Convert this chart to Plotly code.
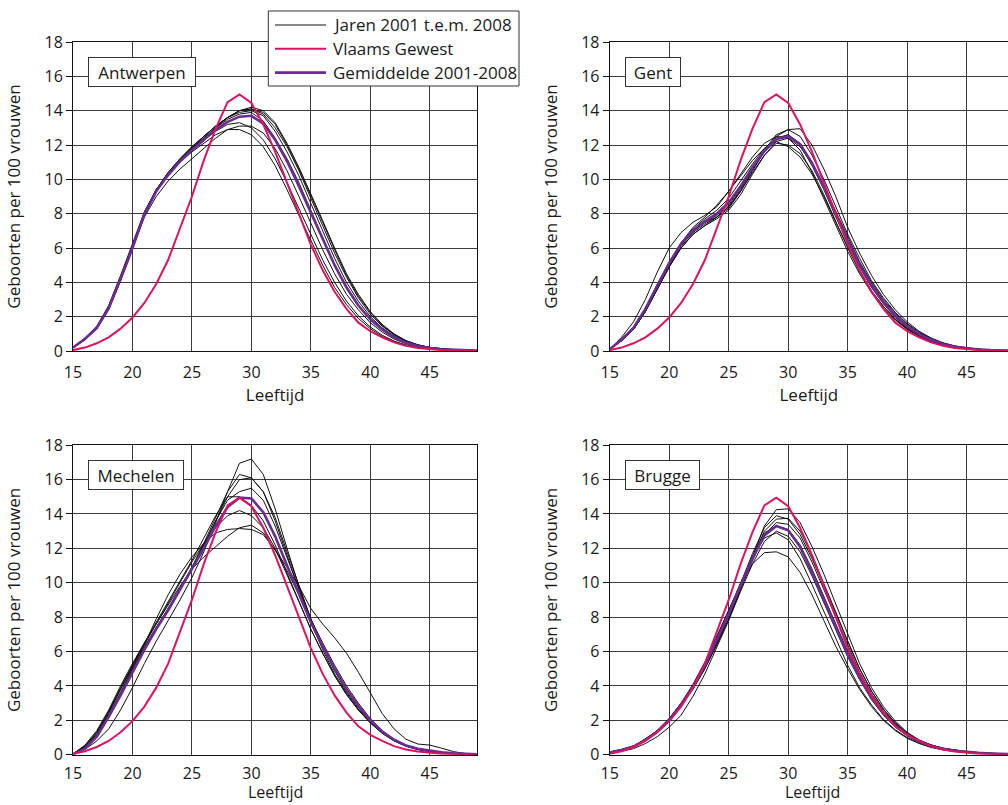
import plotly.graph_objects as go

ages = list(range(15, 50))

vlaams_gewest = [0.05, 0.2, 0.45, 0.8, 1.3, 1.95, 2.8, 3.9, 5.3, 7.1, 9.0, 11.1, 12.95, 14.5, 14.95,
                 14.45, 13.2, 11.6, 9.8, 8.0, 6.2, 4.7, 3.45, 2.45, 1.65, 1.15, 0.8, 0.5, 0.3, 0.18,
                 0.1, 0.05, 0.03, 0.02, 0.01]

antwerpen_years = [
    [0.2, 0.75, 1.45, 2.65, 4.4, 6.2, 8.1, 9.4, 10.3, 11.0, 11.6, 12.1, 12.6, 12.9, 12.9, 12.6, 11.9, 10.8, 9.4, 7.9, 6.4, 5.0, 3.7, 2.7, 1.9, 1.3, 0.85, 0.55, 0.33, 0.2, 0.12, 0.07, 0.04, 0.02, 0.01],
    [0.2, 0.75, 1.4, 2.6, 4.3, 6.1, 8.1, 9.4, 10.3, 11.1, 11.7, 12.3, 12.8, 13.2, 13.3, 13.0, 12.3, 11.2, 9.8, 8.3, 6.7, 5.3, 4.0, 2.9, 2.05, 1.4, 0.92, 0.58, 0.35, 0.21, 0.13, 0.08, 0.05, 0.03, 0.01],
    [0.2, 0.7, 1.35, 2.5, 4.2, 6.0, 7.8, 9.0, 9.9, 10.6, 11.2, 11.8, 12.4, 12.9, 13.1, 13.1, 12.7, 11.8, 10.5, 9.0, 7.4, 5.9, 4.5, 3.3, 2.4, 1.65, 1.1, 0.7, 0.42, 0.25, 0.15, 0.09, 0.05, 0.03, 0.01],
    [0.2, 0.7, 1.35, 2.5, 4.2, 6.0, 7.9, 9.3, 10.3, 11.1, 11.8, 12.4, 13.0, 13.5, 13.8, 13.9, 13.4, 12.4, 11.2, 9.8, 8.2, 6.6, 5.0, 3.7, 2.65, 1.85, 1.25, 0.8, 0.48, 0.29, 0.17, 0.1, 0.06, 0.03, 0.02],
    [0.2, 0.65, 1.3, 2.45, 4.15, 6.0, 7.9, 9.3, 10.3, 11.1, 11.8, 12.5, 13.1, 13.6, 13.9, 14.0, 13.7, 12.8, 11.6, 10.2, 8.6, 7.0, 5.4, 4.0, 2.9, 2.0, 1.35, 0.88, 0.54, 0.32, 0.19, 0.11, 0.07, 0.04, 0.02],
    [0.2, 0.65, 1.3, 2.45, 4.1, 5.95, 7.9, 9.3, 10.3, 11.1, 11.8, 12.4, 13.0, 13.6, 14.0, 14.1, 13.8, 13.0, 11.9, 10.5, 8.9, 7.3, 5.7, 4.3, 3.1, 2.15, 1.45, 0.95, 0.58, 0.35, 0.2, 0.12, 0.07, 0.04, 0.02],
    [0.2, 0.65, 1.3, 2.4, 4.1, 5.9, 7.9, 9.4, 10.4, 11.2, 11.9, 12.5, 13.1, 13.6, 14.0, 14.2, 14.0, 13.3, 12.1, 10.7, 9.2, 7.6, 6.0, 4.5, 3.3, 2.3, 1.55, 1.0, 0.6, 0.36, 0.21, 0.12, 0.07, 0.04, 0.02],
    [0.2, 0.7, 1.35, 2.5, 4.2, 6.0, 8.0, 9.4, 10.4, 11.2, 11.9, 12.5, 13.1, 13.6, 14.0, 14.1, 13.9, 13.2, 12.0, 10.6, 9.1, 7.5, 5.9, 4.4, 3.2, 2.25, 1.5, 0.97, 0.6, 0.36, 0.21, 0.12, 0.07, 0.04, 0.02],
]
antwerpen_mean = [0.2, 0.7, 1.35, 2.5, 4.2, 6.0, 7.95, 9.3, 10.25, 11.05, 11.7, 12.3, 12.9, 13.35, 13.65, 13.7, 13.25, 12.3, 11.05, 9.6, 8.05, 6.5, 5.0, 3.7, 2.65, 1.85, 1.25, 0.8, 0.49, 0.29, 0.17, 0.1, 0.06, 0.03, 0.02]

gent_years = [
    [0.1, 0.8, 1.7, 3.0, 4.6, 6.0, 6.9, 7.5, 7.9, 8.4, 9.3, 10.3, 11.3, 12.1, 12.5, 12.4, 11.7, 10.4, 8.9, 7.3, 5.8, 4.5, 3.4, 2.5, 1.8, 1.25, 0.85, 0.55, 0.35, 0.2, 0.12, 0.07, 0.04, 0.02, 0.01],
    [0.1, 0.7, 1.4, 2.5, 3.9, 5.2, 6.3, 7.1, 7.7, 8.2, 8.9, 9.9, 10.9, 11.8, 12.4, 12.6, 12.0, 10.8, 9.4, 7.8, 6.3, 4.9, 3.7, 2.75, 1.95, 1.35, 0.92, 0.6, 0.38, 0.23, 0.14, 0.08, 0.05, 0.03, 0.01],
    [0.1, 0.65, 1.3, 2.4, 3.7, 5.0, 6.2, 7.0, 7.5, 7.9, 8.5, 9.5, 10.6, 11.6, 12.3, 12.6, 12.1, 11.0, 9.6, 8.0, 6.5, 5.1, 3.9, 2.9, 2.1, 1.45, 0.98, 0.65, 0.42, 0.25, 0.15, 0.09, 0.05, 0.03, 0.01],
    [0.1, 0.6, 1.25, 2.3, 3.6, 4.9, 6.0, 6.8, 7.3, 7.8, 8.4, 9.3, 10.4, 11.4, 12.1, 12.0, 11.5, 10.5, 9.1, 7.6, 6.0, 4.7, 3.5, 2.6, 1.85, 1.3, 0.9, 0.6, 0.38, 0.23, 0.14, 0.08, 0.05, 0.03, 0.01],
    [0.1, 0.65, 1.3, 2.35, 3.7, 5.1, 6.3, 7.2, 7.8, 8.5, 9.3, 10.2, 11.1, 11.8, 12.2, 11.9, 11.3, 10.3, 9.0, 7.5, 6.0, 4.6, 3.5, 2.6, 1.85, 1.3, 0.88, 0.58, 0.37, 0.22, 0.13, 0.08, 0.05, 0.03, 0.01],
    [0.1, 0.6, 1.25, 2.3, 3.65, 5.0, 6.2, 7.0, 7.5, 7.8, 8.4, 9.4, 10.6, 11.7, 12.6, 12.9, 12.5, 11.4, 10.0, 8.4, 6.8, 5.4, 4.1, 3.1, 2.25, 1.6, 1.1, 0.72, 0.46, 0.28, 0.17, 0.1, 0.06, 0.03, 0.02],
    [0.1, 0.6, 1.25, 2.3, 3.6, 4.9, 6.0, 6.8, 7.3, 7.7, 8.2, 9.1, 10.3, 11.4, 12.2, 12.4, 11.9, 10.9, 9.6, 8.1, 6.6, 5.2, 4.0, 3.0, 2.2, 1.55, 1.05, 0.7, 0.44, 0.27, 0.16, 0.09, 0.05, 0.03, 0.02],
    [0.1, 0.6, 1.25, 2.3, 3.6, 4.9, 6.1, 6.9, 7.4, 7.8, 8.3, 9.3, 10.5, 11.6, 12.5, 12.9, 12.95, 12.0, 10.6, 9.0, 7.2, 5.7, 4.4, 3.3, 2.4, 1.7, 1.15, 0.76, 0.48, 0.3, 0.18, 0.1, 0.06, 0.03, 0.02],
]
gent_mean = [0.1, 0.65, 1.35, 2.45, 3.8, 5.1, 6.25, 7.0, 7.55, 8.0, 8.65, 9.6, 10.7, 11.65, 12.35, 12.5, 12.05, 10.95, 9.55, 7.98, 6.4, 5.0, 3.8, 2.85, 2.05, 1.45, 0.98, 0.65, 0.41, 0.25, 0.15, 0.09, 0.05, 0.03, 0.01]

mechelen_years = [
    [0.05, 0.5, 1.3, 2.5, 3.8, 5.1, 6.4, 7.9, 9.3, 10.5, 11.5, 12.3, 12.9, 13.1, 13.15, 13.1, 12.8, 11.9, 10.7, 9.3, 7.9, 6.5, 5.2, 4.0, 3.0, 2.1, 1.4, 0.9, 0.55, 0.33, 0.2, 0.12, 0.07, 0.04, 0.02],
    [0.05, 0.45, 1.2, 2.4, 3.8, 5.2, 6.5, 7.6, 8.7, 9.8, 10.8, 11.5, 12.1, 12.7, 13.2, 13.35, 12.9, 11.9, 10.9, 9.8, 8.5, 7.6, 6.8, 5.9, 4.8, 3.6, 2.4, 1.5, 0.9, 0.62, 0.56, 0.38, 0.18, 0.07, 0.02],
    [0.05, 0.5, 1.3, 2.5, 3.9, 5.2, 6.4, 7.6, 8.8, 10.0, 11.2, 12.3, 13.2, 13.9, 14.2, 13.9, 13.2, 12.0, 10.5, 8.9, 7.3, 5.9, 4.6, 3.5, 2.6, 1.85, 1.25, 0.8, 0.5, 0.3, 0.18, 0.1, 0.06, 0.03, 0.01],
    [0.05, 0.55, 1.4, 2.6, 4.0, 5.3, 6.5, 7.7, 8.9, 10.1, 11.3, 12.6, 13.9, 15.0, 15.0, 14.5, 13.6, 12.2, 10.6, 8.9, 7.3, 5.9, 4.6, 3.5, 2.6, 1.85, 1.25, 0.8, 0.5, 0.3, 0.18, 0.1, 0.06, 0.03, 0.01],
    [0.05, 0.45, 1.15, 2.3, 3.6, 5.0, 6.3, 7.4, 8.5, 9.7, 10.9, 12.2, 13.6, 14.8, 15.3, 15.5, 14.8, 13.3, 11.5, 9.6, 7.8, 6.3, 4.9, 3.7, 2.75, 1.95, 1.3, 0.85, 0.52, 0.32, 0.19, 0.11, 0.06, 0.03, 0.01],
    [0.05, 0.4, 1.1, 2.2, 3.5, 4.9, 6.2, 7.4, 8.5, 9.6, 10.8, 12.1, 13.6, 15.0, 16.0, 16.1, 15.3, 13.6, 11.6, 9.6, 7.7, 6.1, 4.7, 3.6, 2.65, 1.9, 1.3, 0.85, 0.52, 0.32, 0.19, 0.11, 0.06, 0.03, 0.01],
    [0.05, 0.45, 1.15, 2.3, 3.6, 5.0, 6.2, 7.3, 8.4, 9.6, 10.9, 12.3, 13.8, 15.3, 16.3, 16.1, 15.3, 13.8, 11.8, 9.8, 7.9, 6.3, 4.9, 3.7, 2.75, 1.95, 1.35, 0.88, 0.55, 0.33, 0.2, 0.12, 0.07, 0.04, 0.02],
    [0.05, 0.3, 0.8, 1.5, 2.6, 3.9, 5.3, 6.6, 7.8, 9.0, 10.3, 11.8, 13.5, 15.3, 16.95, 17.2, 16.3, 14.3, 12.0, 9.8, 7.9, 6.3, 4.9, 3.75, 2.8, 2.0, 1.35, 0.88, 0.55, 0.33, 0.2, 0.12, 0.07, 0.04, 0.02],
]
mechelen_mean = [0.02, 0.35, 1.05, 2.2, 3.45, 4.8, 6.1, 7.3, 8.4, 9.6, 10.8, 12.0, 13.3, 14.4, 14.95, 14.9, 14.1, 12.7, 11.0, 9.3, 7.7, 6.3, 5.0, 3.8, 2.85, 2.0, 1.35, 0.87, 0.54, 0.34, 0.22, 0.14, 0.08, 0.04, 0.02]

brugge_years = [
    [0.1, 0.25, 0.45, 0.9, 1.4, 2.1, 3.0, 4.1, 5.4, 6.9, 8.4, 9.9, 11.1, 11.75, 11.8, 11.5, 10.6, 9.3, 7.8, 6.3, 5.0, 3.8, 2.8, 2.0, 1.4, 0.95, 0.65, 0.42, 0.28, 0.19, 0.13, 0.09, 0.06, 0.04, 0.02],
    [0.1, 0.25, 0.45, 0.85, 1.35, 2.0, 2.9, 4.0, 5.3, 6.8, 8.4, 10.0, 11.5, 12.6, 12.9, 12.5, 11.4, 9.9, 8.3, 6.7, 5.2, 3.9, 2.9, 2.05, 1.45, 1.0, 0.68, 0.45, 0.3, 0.2, 0.14, 0.09, 0.06, 0.04, 0.02],
    [0.1, 0.2, 0.35, 0.65, 1.05, 1.6, 2.3, 3.4, 4.7, 6.2, 7.8, 9.5, 11.1, 12.4, 13.0, 12.7, 11.8, 10.4, 8.8, 7.2, 5.7, 4.4, 3.2, 2.3, 1.6, 1.1, 0.74, 0.5, 0.33, 0.22, 0.15, 0.1, 0.07, 0.04, 0.02],
    [0.15, 0.3, 0.5, 0.9, 1.4, 2.1, 3.0, 4.0, 5.2, 6.6, 8.1, 9.8, 11.5, 12.9, 13.3, 13.1, 12.2, 10.8, 9.2, 7.6, 6.0, 4.6, 3.4, 2.45, 1.7, 1.15, 0.78, 0.52, 0.35, 0.24, 0.16, 0.11, 0.07, 0.04, 0.02],
    [0.15, 0.3, 0.5, 0.85, 1.35, 2.0, 2.85, 3.85, 5.0, 6.4, 7.9, 9.6, 11.3, 12.8, 13.5, 13.4, 12.6, 11.2, 9.6, 8.0, 6.3, 4.8, 3.55, 2.55, 1.8, 1.2, 0.8, 0.54, 0.36, 0.25, 0.17, 0.11, 0.07, 0.04, 0.02],
    [0.15, 0.3, 0.5, 0.9, 1.4, 2.05, 2.9, 3.9, 5.1, 6.5, 8.1, 9.8, 11.5, 13.0, 13.7, 13.75, 13.0, 11.6, 10.0, 8.3, 6.6, 5.0, 3.7, 2.65, 1.85, 1.25, 0.83, 0.56, 0.37, 0.25, 0.17, 0.11, 0.07, 0.04, 0.02],
    [0.15, 0.3, 0.5, 0.9, 1.4, 2.1, 2.95, 4.0, 5.2, 6.6, 8.2, 10.0, 11.7, 13.2, 13.9, 13.7, 12.8, 11.4, 9.8, 8.2, 6.5, 5.0, 3.7, 2.65, 1.85, 1.25, 0.83, 0.56, 0.37, 0.25, 0.17, 0.11, 0.07, 0.04, 0.02],
    [0.15, 0.3, 0.5, 0.9, 1.4, 2.0, 2.85, 3.8, 5.0, 6.4, 7.9, 9.7, 11.6, 13.3, 14.25, 14.3, 13.5, 12.1, 10.5, 8.8, 7.0, 5.3, 3.9, 2.8, 1.95, 1.3, 0.86, 0.58, 0.38, 0.26, 0.18, 0.12, 0.08, 0.05, 0.03],
]
brugge_mean = [0.13, 0.27, 0.47, 0.85, 1.35, 2.0, 2.9, 3.95, 5.2, 6.65, 8.2, 9.85, 11.4, 12.75, 13.3, 13.05, 12.1, 10.6, 9.0, 7.4, 5.8, 4.45, 3.3, 2.4, 1.7, 1.15, 0.77, 0.51, 0.34, 0.23, 0.16, 0.11, 0.07, 0.04, 0.02]

panel_names = ["Antwerpen", "Gent", "Mechelen", "Brugge"]
panel_years = [antwerpen_years, gent_years, mechelen_years, brugge_years]
panel_means = [antwerpen_mean, gent_mean, mechelen_mean, brugge_mean]

legend_labels = ["Jaren 2001 t.e.m. 2008", "Vlaams Gewest", "Gemiddelde 2001-2008"]
x_title = "Leeftijd"
y_title = "Geboorten per 100 vrouwen"
x_ticks = [15, 20, 25, 30, 35, 40, 45]
y_ticks = [0, 2, 4, 6, 8, 10, 12, 14, 16, 18]

BLACK = "#111111"
PINK = "#DC1262"
PURPLE = "#6A2C91"
GRID = "#3a3a3a"
FONT = "Open Sans"
W, H = 1008, 805

fig = go.Figure()

axis_ids = ["", "2", "3", "4"]
for i, (name, years, mean) in enumerate(zip(panel_names, panel_years, panel_means)):
    xa, ya = "x" + axis_ids[i], "y" + axis_ids[i]
    for yv in years:
        fig.add_trace(go.Scatter(x=ages, y=yv, mode="lines", xaxis=xa, yaxis=ya,
                                 line=dict(color=BLACK, width=1.0), showlegend=False,
                                 hoverinfo="skip"))
    fig.add_trace(go.Scatter(x=ages, y=mean, mode="lines", xaxis=xa, yaxis=ya,
                             line=dict(color=PURPLE, width=2.6), showlegend=False))
    fig.add_trace(go.Scatter(x=ages, y=vlaams_gewest, mode="lines", xaxis=xa, yaxis=ya,
                             line=dict(color=PINK, width=2.0), showlegend=False))

# panel geometry (pixels)
left_x = (73.0, 477.3)
right_x = (609.7, 1008.0)
top_y = (42.0, 351.0)
bot_y = (445.2, 754.7)

def xdom(p):
    return [p[0] / W, p[1] / W]

def ydom(p):
    return [(H - p[1]) / H, (H - p[0]) / H]

tickfont = dict(family=FONT, size=16, color="#1a1a1a")
textfont = dict(family=FONT, size=17, color="#1a1a1a")
common_x = dict(tickvals=x_ticks, showgrid=True, gridcolor=GRID, gridwidth=1, zeroline=False,
                showline=True, linecolor="#111111", linewidth=1, mirror=True, ticks="",
                tickfont=tickfont, automargin=False, fixedrange=True)
common_y = dict(tickvals=y_ticks, range=[0, 18], showgrid=True, gridcolor=GRID, gridwidth=1,
                zeroline=False, showline=True, linecolor="#111111", linewidth=1,
                ticks="outside", ticklen=6, tickcolor="#111111", tickwidth=1,
                tickfont=tickfont, automargin=False, fixedrange=True,
                title=dict(text=y_title, font=textfont, standoff=19))

layout_axes = {}
geom = [(left_x, top_y, [15, 49], True), (right_x, top_y, [15, 48.47], False),
        (left_x, bot_y, [15, 49], True), (right_x, bot_y, [15, 48.47], False)]
for i, (gx, gy, xr, mir) in enumerate(geom):
    xk = "xaxis" + axis_ids[i]
    yk = "yaxis" + axis_ids[i]
    xa = dict(common_x, domain=xdom(gx), range=xr, anchor="y" + axis_ids[i])
    if i < 2:
        xa["title"] = dict(text=x_title, font=textfont, standoff=3)
        xa["ticklabelstandoff"] = 7
    else:
        xa["ticklabelstandoff"] = 4
    ya = dict(common_y, domain=ydom(gy), anchor="x" + axis_ids[i], mirror=mir)
    layout_axes[xk] = xa
    layout_axes[yk] = ya

fig.update_layout(**layout_axes)

annotations = []
# x-axis titles of the bottom row sit on the page edge
for gx in (left_x, (609.7, 1015.0)):
    cx = (gx[0] + gx[1]) / 2 / W
    annotations.append(dict(text=x_title, xref="paper", yref="paper", x=cx, y=0.0,
                            xanchor="center", yanchor="bottom", showarrow=False,
                            font=dict(family=FONT, size=16, color="#1a1a1a")))

# panel labels
box_w = {"Antwerpen": 108, "Gent": 56, "Mechelen": 96, "Brugge": 75}
for i, name in enumerate(panel_names):
    annotations.append(dict(
        text=name, xref="x" + axis_ids[i], yref="y" + axis_ids[i], x=16.29, y=17.13,
        xanchor="left", yanchor="top", showarrow=False, font=textfont,
        bgcolor="white", bordercolor="#333333", borderwidth=1, borderpad=0,
        width=box_w[name] - 2, height=28, align="center"))

# legend (drawn as a framed key)
shapes = []
lx0, lx1, ly0, ly1 = 268.3, 519.0, 11.0, 86.0
shapes.append(dict(type="rect", xref="paper", yref="paper", x0=lx0 / W, x1=lx1 / W,
                   y0=(H - ly1) / H, y1=(H - ly0) / H, line=dict(color="#333333", width=1),
                   fillcolor="white", layer="above"))
rows = [25.0, 48.8, 72.6]
styles = [(BLACK, 1.0), (PINK, 2.0), (PURPLE, 2.6)]
for lab, ry, (c, w) in zip(legend_labels, rows, styles):
    shapes.append(dict(type="line", xref="paper", yref="paper", x0=275 / W, x1=326 / W,
                       y0=(H - ry) / H, y1=(H - ry) / H, line=dict(color=c, width=w),
                       layer="above"))
    annotations.append(dict(text=lab, xref="paper", yref="paper", x=331 / W, y=(H - ry) / H,
                            xanchor="left", yanchor="middle", showarrow=False, font=textfont))

fig.update_layout(width=W, height=H, margin=dict(l=0, r=0, t=0, b=0),
                  paper_bgcolor="white", plot_bgcolor="white", showlegend=False,
                  font=dict(family=FONT, size=16, color="#1a1a1a"),
                  annotations=annotations, shapes=shapes)

fig.write_html("out.html")
